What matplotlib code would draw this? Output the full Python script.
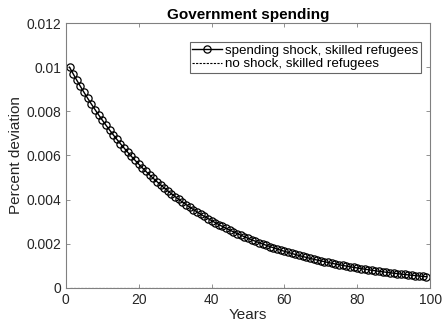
import numpy as np
import matplotlib
matplotlib.use('Agg')
import matplotlib.pyplot as plt

plt.rcParams['font.family'] = ['Liberation Sans', 'DejaVu Sans']

# years after the shock
years = list(range(1, 100))

# spending shock response (percent deviation)
shock = [0.010000, 0.009700, 0.009409, 0.009127, 0.008853, 0.008587, 0.008330, 0.008080,
         0.007837, 0.007602, 0.007374, 0.007153, 0.006938, 0.006730, 0.006528, 0.006333,
         0.006143, 0.005958, 0.005780, 0.005606, 0.005438, 0.005275, 0.005117, 0.004963,
         0.004814, 0.004670, 0.004530, 0.004394, 0.004262, 0.004134, 0.004010, 0.003890,
         0.003773, 0.003660, 0.003550, 0.003444, 0.003340, 0.003240, 0.003143, 0.003049,
         0.002957, 0.002868, 0.002782, 0.002699, 0.002618, 0.002539, 0.002463, 0.002389,
         0.002318, 0.002248, 0.002181, 0.002115, 0.002052, 0.001990, 0.001931, 0.001873,
         0.001816, 0.001762, 0.001709, 0.001658, 0.001608, 0.001560, 0.001513, 0.001468,
         0.001424, 0.001381, 0.001339, 0.001299, 0.001260, 0.001223, 0.001186, 0.001150,
         0.001116, 0.001082, 0.001050, 0.001018, 0.000988, 0.000958, 0.000929, 0.000902,
         0.000874, 0.000848, 0.000823, 0.000798, 0.000774, 0.000751, 0.000728, 0.000707,
         0.000685, 0.000665, 0.000645, 0.000626, 0.000607, 0.000589, 0.000571, 0.000554,
         0.000537, 0.000521, 0.000505]

# no shock baseline
no_shock = [0.0] * len(years)

xticks = [0, 20, 40, 60, 80, 100]
yticks = [0, 0.002, 0.004, 0.006, 0.008, 0.01, 0.012]
ytick_labels = ['0', '0.002', '0.004', '0.006', '0.008', '0.01', '0.012']

fig = plt.figure(figsize=(4.42, 3.29), dpi=100)
ax = fig.add_axes([0.149, 0.125, 0.824, 0.805])

ax.plot(years, shock, color='black', lw=1.0, marker='o', ms=5.2,
        mfc='none', mec='black', mew=0.9, label='spending shock, skilled refugees')
ax.plot(years, no_shock, color='black', lw=0.8, ls=(0, (2, 1.2)),
        label='no shock, skilled refugees')

ax.set_xlim(0, 100)
ax.set_ylim(0, 0.012)
ax.set_xticks(xticks)
ax.set_yticks(yticks)
ax.set_yticklabels(ytick_labels)

axis_color = '#262626'
for side in ['top', 'right', 'bottom', 'left']:
    ax.spines[side].set_color('#808080')
    ax.spines[side].set_linewidth(0.8)
ax.tick_params(direction='in', length=3, width=0.6, colors='#808080',
               labelcolor=axis_color, labelsize=10, top=True, right=True)

ax.set_xlabel('Years', fontsize=11, color=axis_color, labelpad=1)
ax.set_ylabel('Percent deviation', fontsize=11, color=axis_color, labelpad=2)
ax.set_title('Government spending', fontsize=11, fontweight='bold', pad=3)

leg = ax.legend(loc='upper right', bbox_to_anchor=(0.975, 0.93), fontsize=9.6,
                frameon=True, fancybox=False, handlelength=2.2, handletextpad=0.25,
                borderpad=0.2, labelspacing=0.1, borderaxespad=0)
leg.get_frame().set_edgecolor('#404040')
leg.get_frame().set_linewidth(0.8)

fig.savefig('out.png', dpi=100)
